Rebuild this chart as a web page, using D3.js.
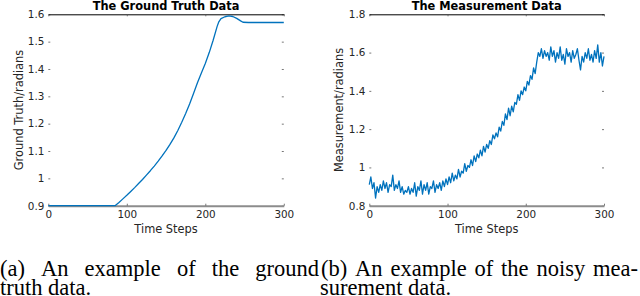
<!DOCTYPE html>
<html lang="en">
<head>
  <meta charset="UTF-8">
  <title>Ground truth and measurement</title>
  <script src="https://d3js.org/d3.v7.min.js"></script>
  <style>
    body { margin: 0; background: #fff; }
  </style>
</head>
<body>
  <script>
    // ground truth
    const gtSteps = [0, 85, 90, 95, 100, 105, 110, 115, 120, 125, 130, 135, 140, 145, 150, 155, 160,
      165, 170, 175, 180, 185, 190, 195, 200, 205, 210, 215, 217, 220, 225, 230, 235, 240, 245, 248, 255, 300];
    const gtValues = [0.9, 0.9, 0.912, 0.925, 0.938, 0.952, 0.966, 0.981, 0.996, 1.012, 1.028, 1.045, 1.063,
      1.082, 1.102, 1.124, 1.148, 1.175, 1.205, 1.237, 1.272, 1.31, 1.35, 1.385, 1.42, 1.46, 1.505, 1.555,
      1.571, 1.584, 1.591, 1.594, 1.592, 1.585, 1.576, 1.571, 1.57, 1.57];

    // noisy measurement, one value every 2 time steps (0..300)
    const measStep = 2;
    const measValues = [
      0.91, 0.95, 0.89, 0.92, 0.84, 0.90, 0.87, 0.91, 0.88, 0.93, 0.89, 0.92, 0.87, 0.91, 0.90, 0.96,
      0.88, 0.91, 0.89, 0.93, 0.87, 0.90, 0.86, 0.88, 0.87, 0.90, 0.86, 0.89, 0.87, 0.92, 0.85, 0.90,
      0.88, 0.93, 0.86, 0.91, 0.88, 0.92, 0.86, 0.90, 0.89, 0.93, 0.87, 0.91, 0.89, 0.92, 0.88, 0.93,
      0.90, 0.94, 0.91, 0.95, 0.92, 0.97, 0.93, 0.96, 0.94, 0.99, 0.95, 0.98, 0.97, 1.02, 0.98, 1.01,
      1.00, 1.04, 1.01, 1.06, 1.03, 1.07, 1.05, 1.09, 1.06, 1.11, 1.08, 1.12, 1.10, 1.14, 1.12, 1.17,
      1.15, 1.18, 1.16, 1.21, 1.19, 1.24, 1.22, 1.28, 1.25, 1.31, 1.27, 1.32, 1.29, 1.34, 1.33, 1.38,
      1.35, 1.40, 1.38, 1.42, 1.40, 1.45, 1.43, 1.48, 1.46, 1.52, 1.49, 1.55, 1.60, 1.58, 1.62, 1.57,
      1.61, 1.58, 1.60, 1.56, 1.63, 1.58, 1.61, 1.55, 1.60, 1.57, 1.63, 1.56, 1.59, 1.54, 1.62, 1.58,
      1.60, 1.55, 1.61, 1.57, 1.59, 1.62, 1.56, 1.51, 1.58, 1.55, 1.60, 1.57, 1.62, 1.56, 1.59, 1.55,
      1.61, 1.57, 1.64, 1.55, 1.60, 1.53, 1.58];

    const xTicks = [0, 100, 200, 300];
    const gtTicks = [0.9, 1, 1.1, 1.2, 1.3, 1.4, 1.5, 1.6];
    const measTicks = [0.8, 1, 1.2, 1.4, 1.6, 1.8];

    const lineColor = "#0072bd";
    const textColor = "#262626";
    const sans = "'DejaVu Sans', sans-serif";
    const serif = "'Liberation Serif', 'Times New Roman', serif";

    var svg = d3.select("body").append("svg")
      .attr("width", 640)
      .attr("height", 296);

    const plotTop = 14.3, plotBottom = 205.7;

    function drawPanel(opts) {
      const x = d3.scaleLinear().domain([0, 300]).range([opts.left, opts.right]);
      const y = d3.scaleLinear().domain(opts.yDomain).range([plotBottom, plotTop]);
      const g = svg.append("g");

      // left ticks + labels
      const yAxis = g.append("g")
        .attr("transform", "translate(" + opts.left + ",0)")
        .call(d3.axisLeft(y).tickValues(opts.yTicks).tickFormat(d3.format("~g"))
          .tickSizeInner(-2).tickSizeOuter(0).tickPadding(4));
      yAxis.select(".domain").remove();

      // right ticks
      const yRight = g.append("g")
        .attr("transform", "translate(" + opts.right + ",0)")
        .call(d3.axisRight(y).tickValues(opts.yTicks).tickFormat("")
          .tickSizeInner(-2).tickSizeOuter(0));
      yRight.select(".domain").remove();

      // bottom axis (grey, thick)
      const xAxis = g.append("g")
        .attr("transform", "translate(0," + plotBottom + ")")
        .call(d3.axisBottom(x).tickValues(xTicks)
          .tickSizeInner(-2).tickSizeOuter(0).tickPadding(4.5));
      xAxis.select(".domain").attr("stroke", "#8c8c8c").attr("stroke-width", 2);

      // top box line (black)
      const xTop = g.append("g")
        .attr("transform", "translate(0," + plotTop + ")")
        .call(d3.axisTop(x).tickValues(xTicks).tickFormat("")
          .tickSizeInner(-2).tickSizeOuter(0));
      xTop.select(".domain").attr("stroke", "#000").attr("stroke-width", 1);

      g.selectAll(".tick line").attr("stroke", "#555").attr("stroke-width", 0.8);
      g.selectAll(".tick text")
        .attr("fill", textColor)
        .style("font-family", sans)
        .style("font-size", "10.4px");

      // data line
      g.append("path")
        .datum(opts.data)
        .attr("fill", "none")
        .attr("stroke", lineColor)
        .attr("stroke-width", 1.3)
        .attr("stroke-linejoin", "round")
        .attr("d", d3.line().x(d => x(d[0])).y(d => y(d[1])));

      const cx = (opts.left + opts.right) / 2;

      // title
      g.append("text")
        .attr("x", cx)
        .attr("y", 9.5)
        .attr("text-anchor", "middle")
        .style("font-family", sans)
        .style("font-size", "11.4px")
        .style("font-weight", "bold")
        .text(opts.title);

      // x label
      g.append("text")
        .attr("x", cx)
        .attr("y", 233)
        .attr("text-anchor", "middle")
        .attr("fill", textColor)
        .style("font-family", sans)
        .style("font-size", "11.4px")
        .text("Time Steps");

      // y label
      g.append("text")
        .attr("transform", "translate(" + opts.yLabelX + "," + (plotTop + plotBottom) / 2 + ")rotate(-90)")
        .attr("text-anchor", "middle")
        .attr("fill", textColor)
        .style("font-family", sans)
        .style("font-size", "11.4px")
        .text(opts.yLabel);
    }

    drawPanel({
      left: 48.3, right: 283.8,
      yDomain: [0.9, 1.6], yTicks: gtTicks,
      data: gtSteps.map((t, i) => [t, gtValues[i]]),
      title: "The Ground Truth Data",
      yLabel: "Ground Truth/radians", yLabelX: 22.5
    });

    drawPanel({
      left: 369.3, right: 604,
      yDomain: [0.8, 1.8], yTicks: measTicks,
      data: measValues.map((v, i) => [i * measStep, v]),
      title: "The Measurement Data",
      yLabel: "Measurement/radians", yLabelX: 342.5
    });

    // captions, first lines justified word by word
    function justifiedLine(words, x0, x1, y) {
      const nodes = words.map(w => svg.append("text")
        .attr("y", y)
        .style("font-family", serif)
        .style("font-size", "22.5px")
        .text(w));
      const widths = nodes.map(n => n.node().getComputedTextLength());
      const gap = (x1 - x0 - d3.sum(widths)) / (words.length - 1);
      let xPos = x0;
      nodes.forEach((n, i) => {
        n.attr("x", xPos);
        xPos += widths[i] + gap;
      });
    }

    function plainLine(str, x0, y) {
      svg.append("text")
        .attr("x", x0)
        .attr("y", y)
        .style("font-family", serif)
        .style("font-size", "22.5px")
        .text(str);
    }

    justifiedLine(["(a)", "An", "example", "of", "the", "ground"], 0, 319, 276);
    plainLine("truth data.", 0, 294.5);
    justifiedLine(["(b)", "An", "example", "of", "the", "noisy", "mea-"], 321, 638, 276);
    plainLine("surement data.", 320, 294.5);
  </script>
</body>
</html>
